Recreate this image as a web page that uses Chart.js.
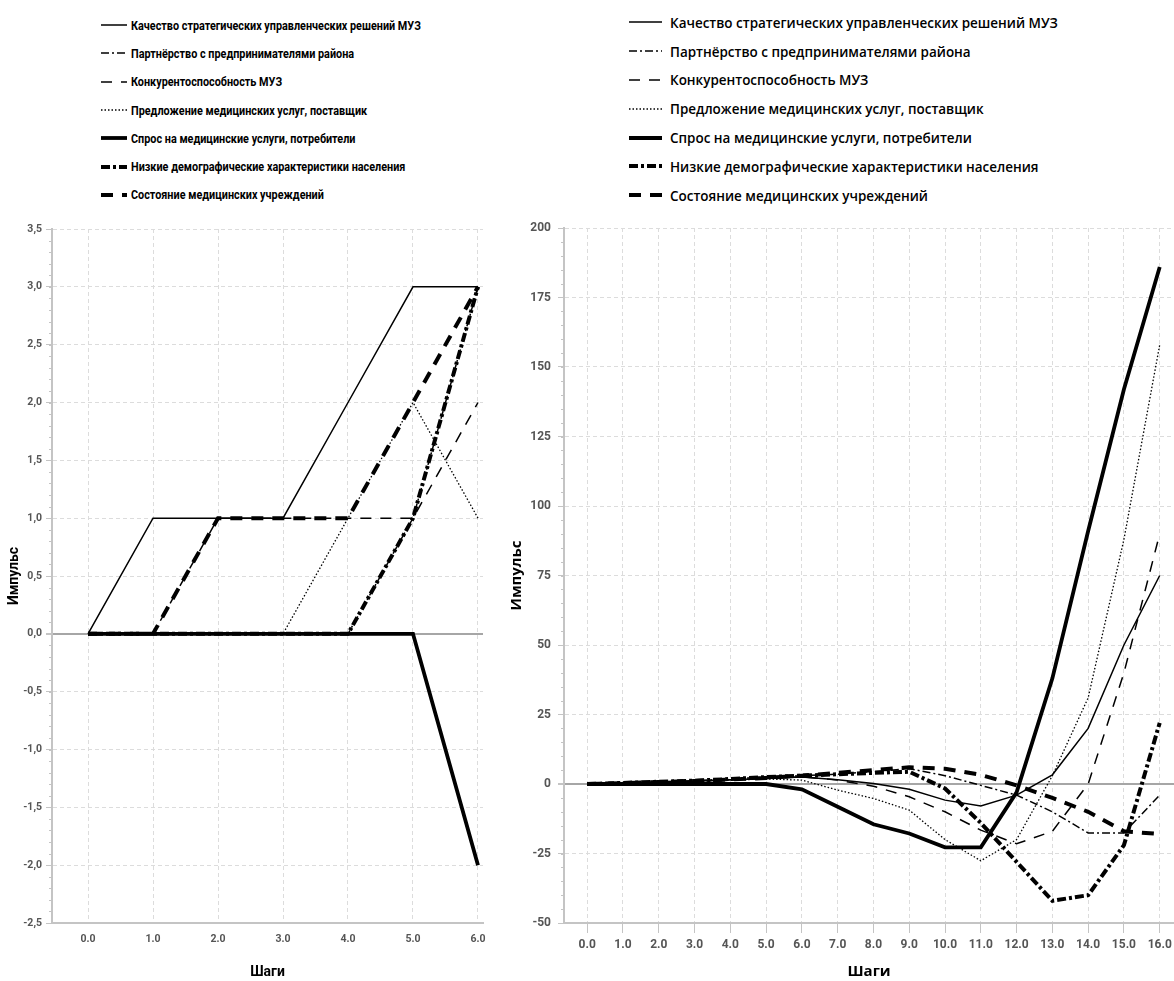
<!DOCTYPE html>
<html lang="ru">
<head>
<meta charset="utf-8">
<title>Импульсы по шагам</title>
<script src="https://cdn.jsdelivr.net/npm/chart.js@4.4.0/dist/chart.umd.min.js"></script>
<style>
  html, body { margin: 0; padding: 0; background: #fff; }
  body { width: 1174px; height: 981px; position: relative; overflow: hidden; }
  .box { position: absolute; }
  .legend { position: absolute; color: #000; }
  .legend .row { display: flex; align-items: center; white-space: nowrap; }
  .legend svg { flex: none; }
  .legend span { display: inline-block; transform-origin: 0 50%; }
  #legA { left: 101px; top: 11px; font: bold 13px Roboto, sans-serif; }
  #legA .row { height: 28.3px; }
  #legA svg { margin-right: 4px; }
  #legB { left: 629px; top: 8px; font: 600 14.5px 'Open Sans', sans-serif; }
  #legB .row { height: 28.8px; }
  #legB svg { margin-right: 8px; }
</style>
</head>
<body>
<div id="legA" class="legend"></div>
<div id="legB" class="legend"></div>
<div class="box" style="left:0;top:210px;width:490px;height:771px"><canvas id="chartA"></canvas></div>
<div class="box" style="left:500px;top:210px;width:674px;height:771px"><canvas id="chartB"></canvas></div>

<script>
// series names (legend order)
const seriesNames = [
  'Качество стратегических управленческих решений МУЗ',
  'Партнёрство с предпринимателями района',
  'Конкурентоспособность МУЗ',
  'Предложение медицинских услуг, поставщик',
  'Спрос на медицинские услуги, потребители',
  'Низкие демографические характеристики населения',
  'Состояние медицинских учреждений'
];

// left chart: steps 0..6
const stepsA = [0, 1, 2, 3, 4, 5, 6];
const kachestvoA = [0, 1, 1, 1, 2, 3, 3];
const partnerA   = [0, 0, 0, 0, 0, 1, 3];
const konkurA    = [0, 0, 1, 1, 1, 1, 2];
const predlA     = [0, 0, 0, 0, 1, 2, 1];
const sprosA     = [0, 0, 0, 0, 0, 0, -2];
const nizkieA    = [0, 0, 0, 0, 0, 1, 3];
const sostA      = [0, 0, 1, 1, 1, 2, 3];

// right chart: steps 0..16
const stepsB = [0, 1, 2, 3, 4, 5, 6, 7, 8, 9, 10, 11, 12, 13, 14, 15, 16];
const kachestvoB = [0, 0.3, 0.6, 1, 1.5, 2, 2.5, 1.5, 0.2, -1.9, -5.8, -7.9, -4, 3.3, 20, 50, 75];
const partnerB   = [0, 0.4, 0.8, 1.2, 1.8, 2.5, 3, 3.5, 4.5, 5.5, 3, -0.5, -4, -10, -17.6, -17.6, -4];
const konkurB    = [0, 0.3, 0.6, 1, 1.5, 2, 2.6, 1.4, -0.8, -4.6, -10, -16.6, -21.5, -17, 0, 40, 90];
const predlB     = [0, 0.3, 0.6, 1, 1.4, 1.8, 1.4, -2.2, -5.2, -9.4, -20, -27.6, -20, 3, 31, 88, 158];
const sprosB     = [0, 0, 0, 0, 0, 0, -1.9, -8.2, -14.5, -17.8, -22.8, -22.8, -3, 38, 91, 142, 186];
const nizkieB    = [0, 0.4, 0.8, 1.2, 1.8, 2.5, 3, 3.5, 4, 4.4, -1.6, -14, -28, -42, -40, -22, 22];
const sostB      = [0, 0.3, 0.7, 1.1, 1.6, 2.2, 3, 4, 5, 6, 5.5, 3.3, -0.5, -5, -10, -17, -18];

// line looks, same order as names
const lineStyles = [
  { width: 1.5, dash: [] },
  { width: 1.5, dash: [8, 3, 2, 3] },
  { width: 1.5, dash: [11, 9] },
  { width: 1.3, dash: [1.5, 2] },
  { width: 3.8, dash: [] },
  { width: 4, dash: [9, 3, 3, 3] },
  { width: 4, dash: [12, 9] }
];

const GRID = '#dcdcdc';
const AXIS = '#c4c4c4';
const ZERO = '#a6a6a6';

// html legend, text squeezed to the width of the original condensed font
function buildLegend(el, sampleW, firstTextW) {
  const spans = [];
  seriesNames.forEach((name, i) => {
    const st = lineStyles[i];
    const row = document.createElement('div');
    row.className = 'row';
    row.innerHTML =
      '<svg width="' + sampleW + '" height="10"><line x1="0" y1="5" x2="' + sampleW + '" y2="5" stroke="#000" stroke-width="' +
      st.width + '" stroke-dasharray="' + (st.dash.length ? st.dash.join(' ') : 'none') + '"/></svg>';
    const t = document.createElement('span');
    t.textContent = name;
    row.appendChild(t);
    el.appendChild(row);
    spans.push(t);
  });
  const k = firstTextW / spans[0].offsetWidth;
  spans.forEach(s => { s.style.transform = 'scaleX(' + k + ')'; });
}
buildLegend(document.getElementById('legA'), 26, 290);
buildLegend(document.getElementById('legB'), 33, 388);

function makeDatasets(steps, series) {
  return series.map((vals, i) => ({
    label: seriesNames[i],
    data: steps.map((s, j) => ({ x: s, y: vals[j] })),
    borderColor: '#000',
    backgroundColor: '#000',
    borderWidth: lineStyles[i].width,
    borderDash: lineStyles[i].dash,
    pointRadius: 0,
    tension: 0,
    fill: false
  }));
}

// small ticks between the labelled ones on the y axis
const minorTicks = {
  id: 'minorTicks',
  beforeDatasetsDraw(chart, args, opts) {
    const y = chart.scales.y;
    const ctx = chart.ctx;
    const n = Math.round((y.max - y.min) / opts.step);
    ctx.save();
    ctx.strokeStyle = AXIS;
    ctx.lineWidth = 1;
    for (let k = 0; k <= n; k++) {
      const py = Math.round(y.getPixelForValue(y.min + k * opts.step)) + 0.5;
      ctx.beginPath();
      ctx.moveTo(y.right - opts.len, py);
      ctx.lineTo(y.right, py);
      ctx.stroke();
    }
    ctx.restore();
  }
};

function makeChart(id, cfg) {
  return new Chart(document.getElementById(id), {
    type: 'line',
    data: { datasets: makeDatasets(cfg.steps, cfg.series) },
    plugins: [minorTicks],
    options: {
      responsive: true,
      maintainAspectRatio: false,
      animation: false,
      layout: { padding: cfg.padding },
      plugins: {
        legend: { display: false },
        tooltip: { enabled: false },
        minorTicks: { step: cfg.minorStep, len: 3 }
      },
      scales: {
        x: {
          type: 'linear',
          min: cfg.xMin,
          max: cfg.xMax,
          afterBuildTicks: s => { s.ticks = cfg.steps.map(v => ({ value: v })); },
          afterFit: s => { s.height = 58; s.paddingLeft = 0; s.paddingRight = 0; },
          grid: { color: GRID, lineWidth: 1, drawTicks: cfg.xTickLen > 0, tickLength: cfg.xTickLen, tickColor: AXIS },
          border: { color: AXIS, width: 2, dash: [4, 3] },
          ticks: {
            color: '#555',
            padding: cfg.xTickPad,
            maxRotation: 0,
            font: cfg.tickFont,
            callback: v => Number(v).toFixed(1)
          },
          title: {
            display: true,
            text: 'Шаги',
            color: '#000',
            font: cfg.titleFont,
            padding: { top: cfg.xTitlePad, bottom: 0 }
          }
        },
        y: {
          min: cfg.yMin,
          max: cfg.yMax,
          afterFit: s => { s.width = cfg.yWidth; s.paddingTop = 0; s.paddingBottom = 0; },
          grid: {
            color: c => (c.tick && c.tick.value === 0 ? ZERO : GRID),
            lineWidth: c => (c.tick && c.tick.value === 0 ? 2 : 1),
            tickLength: 6,
            tickColor: AXIS
          },
          border: {
            color: AXIS,
            width: 2,
            dash: c => (c.tick && c.tick.value === 0 ? [] : [4, 3])
          },
          ticks: {
            stepSize: cfg.yStep,
            color: '#555',
            padding: cfg.yTickPad,
            font: cfg.tickFont,
            callback: cfg.yFormat
          },
          title: {
            display: true,
            text: 'Импульс',
            color: '#000',
            font: cfg.titleFont,
            padding: { top: cfg.yTitlePad, bottom: 0 }
          }
        }
      }
    }
  });
}

makeChart('chartA', {
  steps: stepsA,
  series: [kachestvoA, partnerA, konkurA, predlA, sprosA, nizkieA, sostA],
  padding: { top: 19, right: 7, left: 0, bottom: 0 },
  xMin: -0.554, xMax: 6.077,
  yMin: -2.5, yMax: 3.5, yStep: 0.5, minorStep: 0.1,
  yWidth: 52,
  xTickLen: 0, xTickPad: 10, yTickPad: 4,
  xTitlePad: 5, yTitlePad: 6,
  tickFont: { family: 'Roboto, sans-serif', size: 10.5, weight: 'bold' },
  titleFont: { family: 'Roboto, sans-serif', size: 14, weight: 'bold' },
  yFormat: v => Number(v).toFixed(1).replace('.', ',')
});

makeChart('chartB', {
  steps: stepsB,
  series: [kachestvoB, partnerB, konkurB, predlB, sprosB, nizkieB, sostB],
  padding: { top: 18, right: 0, left: 0, bottom: 0 },
  xMin: -0.648, xMax: 16.399,
  yMin: -50, yMax: 200, yStep: 25, minorStep: 5,
  yWidth: 64,
  xTickLen: 10, xTickPad: 5, yTickPad: 7,
  xTitlePad: 0, yTitlePad: 8,
  tickFont: { family: 'Roboto, sans-serif', size: 12, weight: 'bold' },
  titleFont: { family: "'Open Sans', sans-serif", size: 15, weight: 'bold' },
  yFormat: v => String(v)
});
</script>
</body>
</html>
